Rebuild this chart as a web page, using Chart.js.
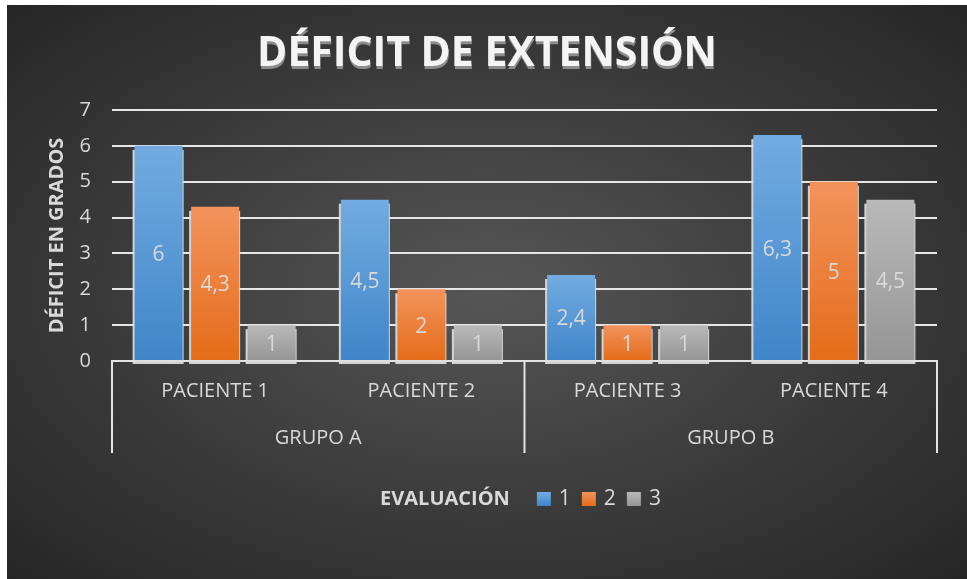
<!DOCTYPE html>
<html>
<head>
<meta charset="utf-8">
<script src="https://cdn.jsdelivr.net/npm/chart.js@4.4.1/dist/chart.umd.min.js"></script>
<style>
  html, body { margin: 0; padding: 0; background: #ffffff; }
  #wrap {
    position: absolute; left: 7px; top: 5px; width: 960px; height: 574px;
    background: radial-gradient(ellipse farthest-corner at 50% 50%, #565656 0%, #3d3d3d 50%, #262626 100%);
  }
</style>
</head>
<body>
<div id="wrap"><canvas id="chart"></canvas></div>
<script>
// datos del gráfico
const pacientes = ['PACIENTE 1', 'PACIENTE 2', 'PACIENTE 3', 'PACIENTE 4'];
const grupos = ['GRUPO A', 'GRUPO B'];
const grupoDePaciente = [0, 0, 1, 1];
const evaluaciones = ['1', '2', '3'];
const evaluacion1 = [6, 4.5, 2.4, 6.3];
const evaluacion2 = [4.3, 2, 1, 5];
const evaluacion3 = [1, 1, 1, 4.5];
const yTicks = [0, 1, 2, 3, 4, 5, 6, 7];

const FONT = "'Open Sans', 'Noto Sans', sans-serif";
const TEXTO = '#d9d9d9';

// [arriba, abajo] de cada degradado
const colores = [
  ['#73abe1', '#3e86c9'],
  ['#f3935c', '#e46c19'],
  ['#b9b9b9', '#959595']
];

function barGradient(context, top, bottom) {
  const chart = context.chart;
  const y = chart.scales.y;
  if (!chart.chartArea || !y || context.raw === undefined) return bottom;
  const yTop = y.getPixelForValue(context.raw);
  const yBase = y.getPixelForValue(0);
  if (!isFinite(yTop) || yTop === yBase) return bottom;
  const g = chart.ctx.createLinearGradient(0, yTop, 0, yBase);
  g.addColorStop(0, top);
  g.addColorStop(1, bottom);
  return g;
}

const series = [evaluacion1, evaluacion2, evaluacion3];

const sombraBarras = {
  id: 'sombraBarras',
  beforeDatasetsDraw(chart) {
    const ctx = chart.ctx;
    ctx.save();
    ctx.fillStyle = 'rgba(222,222,222,0.92)';
    chart.data.datasets.forEach((ds, i) => {
      chart.getDatasetMeta(i).data.forEach(bar => {
        const w = bar.width;
        ctx.fillRect(bar.x - w / 2 - 2, bar.y + 4, w + 3, bar.base - bar.y);
      });
    });
    ctx.restore();
  }
};

const etiquetasBarras = {
  id: 'etiquetasBarras',
  afterDatasetsDraw(chart) {
    const ctx = chart.ctx;
    ctx.save();
    ctx.font = '21px ' + FONT;
    ctx.fillStyle = TEXTO;
    ctx.textAlign = 'center';
    ctx.textBaseline = 'middle';
    chart.data.datasets.forEach((ds, i) => {
      chart.getDatasetMeta(i).data.forEach((bar, j) => {
        const txt = String(ds.data[j]).replace('.', ',');
        ctx.fillText(txt, bar.x, (bar.y + bar.base) / 2 + 2);
      });
    });
    ctx.restore();
  }
};

const ejeGrupos = {
  id: 'ejeGrupos',
  afterDraw(chart) {
    const ctx = chart.ctx;
    const x = chart.scales.x;
    const area = chart.chartArea;
    const fondo = area.bottom + 92;
    ctx.save();
    // separadores
    const cortes = [area.left];
    for (let i = 1; i < pacientes.length; i++) {
      if (grupoDePaciente[i] !== grupoDePaciente[i - 1]) {
        cortes.push((x.getPixelForValue(i - 1) + x.getPixelForValue(i)) / 2);
      }
    }
    cortes.push(area.right);
    ctx.strokeStyle = '#e3e3e3';
    ctx.lineWidth = 2;
    cortes.forEach(cx => {
      ctx.beginPath();
      ctx.moveTo(cx, area.bottom);
      ctx.lineTo(cx, fondo);
      ctx.stroke();
    });
    // etiquetas de grupo
    ctx.font = '20px ' + FONT;
    ctx.fillStyle = TEXTO;
    ctx.textAlign = 'center';
    ctx.textBaseline = 'middle';
    grupos.forEach((g, gi) => {
      const idx = grupoDePaciente.map((v, i) => v === gi ? i : -1).filter(i => i >= 0);
      const cx = idx.reduce((s, i) => s + x.getPixelForValue(i), 0) / idx.length;
      ctx.fillText(g, cx, area.bottom + 77);
    });
    ctx.restore();
  }
};

const sombraTitulo = {
  id: 'sombraTitulo',
  beforeDraw(chart) {
    const t = chart.titleBlock;
    if (!t || !t.options.display) return;
    const ctx = chart.ctx;
    const f = t.options.font;
    const lh = f.size * 1.2;
    const y = t.top + t.options.padding.top + lh / 2;
    ctx.save();
    ctx.font = 'bold ' + f.size + 'px ' + FONT;
    ctx.textAlign = 'center';
    ctx.textBaseline = 'middle';
    ctx.fillStyle = '#8c8c8c';
    ctx.fillText(t.options.text, (t.left + t.right) / 2 + 0.5, y + 3);
    ctx.restore();
  }
};

const leyenda = {
  id: 'leyenda',
  afterDraw(chart) {
    const ctx = chart.ctx;
    const area = chart.chartArea;
    const y = area.bottom + 138;
    ctx.save();
    ctx.textBaseline = 'middle';
    ctx.textAlign = 'left';
    ctx.font = 'bold 20px ' + FONT;
    const titulo = 'EVALUACIÓN';
    const wt = ctx.measureText(titulo).width;
    ctx.font = '21px ' + FONT;
    const items = chart.data.datasets.map(ds => ({ label: ds.label, w: ctx.measureText(ds.label).width }));
    const box = 14, gapBox = 8, gapItem = 11, gapTitulo = 27;
    let total = wt + gapTitulo;
    items.forEach((it, i) => { total += box + gapBox + it.w + (i < items.length - 1 ? gapItem : 0); });
    let cx = (area.left + area.right) / 2 - 4 - total / 2;
    ctx.font = 'bold 20px ' + FONT;
    ctx.fillStyle = TEXTO;
    ctx.fillText(titulo, cx, y);
    cx += wt + gapTitulo;
    ctx.font = '21px ' + FONT;
    items.forEach((it, i) => {
      const g = ctx.createLinearGradient(0, y - box / 2, 0, y + box / 2);
      g.addColorStop(0, colores[i][0]);
      g.addColorStop(1, colores[i][1]);
      ctx.fillStyle = g;
      ctx.fillRect(cx, y - box / 2, box, box);
      cx += box + gapBox;
      ctx.fillStyle = TEXTO;
      ctx.fillText(it.label, cx, y);
      cx += it.w + gapItem;
    });
    ctx.restore();
  }
};

new Chart(document.getElementById('chart'), {
  type: 'bar',
  data: {
    labels: pacientes,
    datasets: series.map((d, i) => ({
      label: evaluaciones[i],
      data: d,
      backgroundColor: ctx => barGradient(ctx, colores[i][0], colores[i][1]),
      borderWidth: 0,
      categoryPercentage: 0.822,
      barPercentage: 0.85
    }))
  },
  options: {
    responsive: true,
    maintainAspectRatio: false,
    animation: false,
    layout: { padding: { left: 0, right: 0, top: 0, bottom: 118 } },
    plugins: {
      legend: { display: false },
      tooltip: { enabled: false },
      title: {
        display: true,
        text: 'DÉFICIT DE EXTENSIÓN',
        color: '#f4f4f4',
        font: { family: FONT, size: 41, weight: 'bold', lineHeight: 1.2 },
        padding: { top: 25, bottom: 30.8 }
      }
    },
    scales: {
      x: {
        grid: { display: false, drawTicks: false },
        border: { display: true, color: '#e3e3e3', width: 2 },
        ticks: { color: TEXTO, font: { family: FONT, size: 20 }, padding: 18, maxRotation: 0 },
        afterFit(scale) { scale.height = 100; }
      },
      y: {
        min: 0,
        max: 7,
        afterBuildTicks(scale) { scale.ticks = yTicks.map(v => ({ value: v })); },
        grid: { color: '#e6e6e6', lineWidth: 2, drawTicks: false },
        border: { display: false },
        ticks: { color: TEXTO, font: { family: FONT, size: 20 }, padding: 21 },
        title: {
          display: true,
          text: 'DÉFICIT EN GRADOS',
          color: TEXTO,
          font: { family: FONT, size: 20, weight: 'bold' },
          padding: { top: 38, bottom: 0 }
        },
        afterFit(scale) { scale.width = 105; }
      },
      // margen derecho vacío, para que el título quede centrado en el lienzo
      yDer: {
        position: 'right',
        min: 0,
        max: 7,
        grid: { display: false, drawTicks: false },
        border: { display: false },
        ticks: { display: false },
        afterFit(scale) { scale.width = 30; }
      }
    }
  },
  plugins: [sombraTitulo, sombraBarras, etiquetasBarras, ejeGrupos, leyenda]
});
</script>
</body>
</html>
